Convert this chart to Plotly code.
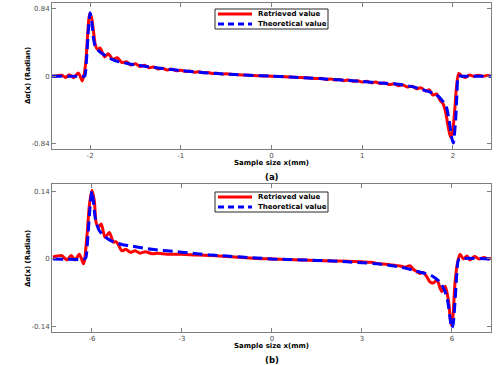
import plotly.graph_objects as go

# ---- panel (a): phase gradient, sample size +/-2 mm ----
a_retrieved_x = [-2.42, -2.36, -2.31, -2.27, -2.23, -2.18, -2.13, -2.085, -2.05, -2.025,
                 -2.005, -1.985, -1.965, -1.94, -1.915, -1.89, -1.84, -1.80, -1.75, -1.70,
                 -1.65, -1.60, -1.55, -1.50, -1.45, -1.40, -1.35, -1.30, -1.25, -1.20,
                 -1.15, -1.10, -1.05, -1.00, -0.95, -0.90, -0.85, -0.80, -0.75, -0.70,
                 -0.65, -0.60, -0.55, -0.50, -0.40, -0.30, -0.20, -0.10, 0.0, 0.10,
                 0.20, 0.30, 0.40, 0.50, 0.55, 0.60, 0.65, 0.70, 0.75, 0.80,
                 0.85, 0.90, 0.95, 1.00, 1.05, 1.10, 1.15, 1.20, 1.25, 1.30,
                 1.35, 1.40, 1.45, 1.50, 1.55, 1.60, 1.65, 1.70, 1.74, 1.78,
                 1.82, 1.86, 1.89, 1.92, 1.95, 1.975, 1.995, 2.02, 2.04, 2.065,
                 2.10, 2.14, 2.18, 2.23, 2.28, 2.33, 2.38, 2.42]
a_retrieved_y = [0.0, 0.005, 0.012, -0.015, 0.018, -0.018, 0.04, -0.06, 0.15, 0.55,
                 0.78, 0.73, 0.58, 0.38, 0.33, 0.35, 0.24, 0.28, 0.21, 0.23,
                 0.17, 0.18, 0.14, 0.155, 0.12, 0.135, 0.105, 0.115, 0.09, 0.10,
                 0.078, 0.088, 0.068, 0.075, 0.06, 0.065, 0.05, 0.056, 0.042, 0.046,
                 0.034, 0.038, 0.027, 0.03, 0.02, 0.014, 0.009, 0.004, 0.0, -0.005,
                 -0.011, -0.015, -0.02, -0.03, -0.027, -0.04, -0.034, -0.046, -0.04, -0.055,
                 -0.048, -0.063, -0.056, -0.072, -0.064, -0.082, -0.073, -0.092, -0.084, -0.104,
                 -0.095, -0.118, -0.108, -0.135, -0.125, -0.155, -0.145, -0.185, -0.17, -0.235,
                 -0.22, -0.30, -0.34, -0.45, -0.64, -0.76, -0.70, -0.42, -0.13, 0.035,
                 0.0, -0.015, 0.015, -0.002, 0.012, 0.0, 0.008, 0.0]

a_theory_x = [-2.42, -2.10, -2.06, -2.04, -2.02, -2.00, -1.98, -1.96, -1.94, -1.90,
              -1.85, -1.80, -1.75, -1.70, -1.60, -1.50, -1.40, -1.30, -1.20, -1.10,
              -1.00, -0.80, -0.60, -0.40, -0.20, 0.0, 0.20, 0.40, 0.60, 0.80,
              1.00, 1.20, 1.40, 1.55, 1.70, 1.80, 1.85, 1.90, 1.93, 1.96,
              1.99, 2.005, 2.03, 2.045, 2.06, 2.10, 2.42]
a_theory_y = [0.0, 0.0, 0.0, 0.2, 0.55, 0.79, 0.66, 0.45, 0.36, 0.31,
              0.27, 0.235, 0.205, 0.185, 0.16, 0.14, 0.125, 0.11, 0.095, 0.082,
              0.07, 0.05, 0.033, 0.02, 0.01, 0.0, -0.01, -0.022, -0.035, -0.05,
              -0.065, -0.083, -0.10, -0.13, -0.18, -0.22, -0.26, -0.33, -0.39, -0.56,
              -0.78, -0.83, -0.54, -0.21, 0.0, 0.0, 0.0]

a_ticks_x = [-2, -1, 0, 1, 2]
a_ticks_y = [-0.84, 0, 0.84]

# ---- panel (b): sample size +/-6 mm ----
b_retrieved_x = [-7.3, -7.15, -7.0, -6.9, -6.83, -6.69, -6.56, -6.42, -6.28, -6.17,
                 -6.08, -6.0, -5.92, -5.86, -5.78, -5.69, -5.56, -5.42, -5.28, -5.2,
                 -5.13, -5.0, -4.87, -4.72, -4.56, -4.39, -4.22, -4.0, -3.8, -3.5,
                 -3.0, -2.5, -2.0, -1.5, -1.0, -0.5, 0.0, 0.5, 1.0, 1.5,
                 2.0, 2.5, 3.0, 3.3, 3.6, 3.93, 4.27, 4.45, 4.6, 4.72,
                 4.82, 4.93, 5.05, 5.16, 5.27, 5.38, 5.5, 5.6, 5.66, 5.77,
                 5.85, 5.9, 5.97, 6.02, 6.1, 6.18, 6.27, 6.38, 6.5, 6.6,
                 6.75, 6.9, 7.07, 7.2, 7.3]
b_retrieved_y = [0.004, 0.006, 0.007, 0.001, -0.002, 0.007, -0.002, 0.01, -0.01, 0.045,
                 0.114, 0.143, 0.121, 0.076, 0.066, 0.073, 0.045, 0.055, 0.035, 0.036,
                 0.031, 0.017, 0.02, 0.014, 0.017, 0.012, 0.015, 0.011, 0.012, 0.01,
                 0.01, 0.008, 0.007, 0.005, 0.003, 0.001, 0.0, -0.001, -0.002, -0.003,
                 -0.004, -0.005, -0.006, -0.007, -0.01, -0.012, -0.0145, -0.017, -0.014, -0.022,
                 -0.026, -0.03, -0.028, -0.037, -0.048, -0.05, -0.044, -0.06, -0.068, -0.057,
                 -0.075, -0.095, -0.137, -0.127, -0.05, -0.009, 0.01, 0.0, 0.006, -0.002,
                 0.005, 0.0, 0.003, 0.0, 0.002]

b_theory_x = [-7.3, -6.25, -6.2, -6.13, -6.06, -6.0, -5.95, -5.89, -5.78, -5.67,
              -5.5, -5.3, -5.0, -4.7, -4.4, -4.0, -3.5, -3.0, -2.5, -2.0,
              -1.5, -1.0, -0.5, 0.0, 0.5, 1.0, 1.5, 2.0, 2.5, 3.0,
              3.5, 4.0, 4.5, 4.8, 5.1, 5.3, 5.45, 5.6, 5.75, 5.85,
              5.93, 5.99, 6.04, 6.1, 6.15, 6.2, 6.25, 7.3]
b_theory_y = [0.0, 0.0, 0.003, 0.05, 0.11, 0.142, 0.12, 0.086, 0.062, 0.052,
              0.043, 0.036, 0.03, 0.027, 0.024, 0.02, 0.017, 0.014, 0.011, 0.008,
              0.006, 0.004, 0.002, 0.0, -0.001, -0.002, -0.003, -0.004, -0.006, -0.008,
              -0.01, -0.014, -0.02, -0.025, -0.03, -0.034, -0.04, -0.048, -0.065, -0.085,
              -0.12, -0.144, -0.135, -0.09, -0.04, -0.005, 0.0, 0.0]

b_ticks_x = [-6, -3, 0, 3, 6]
b_ticks_y = [-0.14, 0, 0.14]

series_names = ["Retrieved value", "Theoretical value"]

RED = "#ff0000"
BLUE = "#0000ff"
FONT = "DejaVu Sans"
AXIS_COLOR = "#7f7f7f"
LABEL_COLOR = "#4d4d4d"

W, H = 498, 365
ML, MR, MT, MB = 52, 7, 3, 33


def px_x(p):
    # pixel column -> paper x
    return (p - ML) / (W - ML - MR)


def px_y(p):
    # pixel row (from top) -> paper y
    return (H - MB - p) / (H - MT - MB)


def fmt(v):
    return "0" if v == 0 else f"{v:g}"


fig = go.Figure()

panels = [
    ("x", "y", a_retrieved_x, a_retrieved_y, a_theory_x, a_theory_y),
    ("x2", "y2", b_retrieved_x, b_retrieved_y, b_theory_x, b_theory_y),
]
for xa, ya, rx, ry, tx, ty in panels:
    # retrieved first so the dashed theory line sits on top
    fig.add_trace(go.Scatter(x=rx, y=ry, mode="lines", name=series_names[0],
                             line=dict(color=RED, width=3, shape="spline", smoothing=0.8),
                             xaxis=xa, yaxis=ya, showlegend=False))
    fig.add_trace(go.Scatter(x=tx, y=ty, mode="lines", name=series_names[1],
                             line=dict(color=BLUE, width=3, dash="10px,5px",
                                       shape="spline", smoothing=0.6),
                             xaxis=xa, yaxis=ya, showlegend=False))

axis_style = dict(showline=True, linecolor=AXIS_COLOR, linewidth=1, mirror="ticks",
                  ticks="inside", ticklen=4, tickcolor=AXIS_COLOR, showgrid=False,
                  zeroline=False, automargin=False,
                  tickfont=dict(family=FONT, size=7, color=LABEL_COLOR))

fig.update_layout(
    width=W, height=H,
    margin=dict(l=ML, r=MR, t=MT, b=MB, autoexpand=False),
    paper_bgcolor="white", plot_bgcolor="white",
    showlegend=False,
    xaxis=dict(domain=[0, 1], anchor="y", range=[-2.42, 2.42],
               tickvals=a_ticks_x, ticktext=[fmt(v) for v in a_ticks_x], **axis_style),
    yaxis=dict(domain=[px_y(149), 1], anchor="x", range=[-0.905, 0.91],
               tickvals=a_ticks_y, ticktext=[fmt(v) for v in a_ticks_y], **axis_style),
    xaxis2=dict(domain=[0, 1], anchor="y2", range=[-7.33, 7.3],
                tickvals=b_ticks_x, ticktext=[fmt(v) for v in b_ticks_x], **axis_style),
    yaxis2=dict(domain=[0, px_y(184)], anchor="x2", range=[-0.152, 0.156],
                tickvals=b_ticks_y, ticktext=[fmt(v) for v in b_ticks_y], **axis_style),
)

title_font = dict(family=FONT, size=7, color="black")
ylabel = "<b>Δ<i>α</i>(x) (Radian)</b>"
# (x-title row, tag row, tag, y-title centre row, legend top row)
for xt_row, tag_row, tag, ymid_row, leg_top in [(163, 177, "(a)", 76, 9), (346, 360, "(b)", 259, 192)]:
    fig.add_annotation(x=0.5, y=px_y(xt_row), xref="paper", yref="paper", showarrow=False,
                       text="<b>Sample size x(mm)</b>", font=title_font,
                       xanchor="center", yanchor="middle")
    fig.add_annotation(x=0.5, y=px_y(tag_row), xref="paper", yref="paper", showarrow=False,
                       text=f"<b>{tag}</b>", font=dict(family=FONT, size=8.5, color="black"),
                       xanchor="center", yanchor="middle")
    fig.add_annotation(x=px_x(28), y=px_y(ymid_row), xref="paper", yref="paper",
                       showarrow=False, text=ylabel, textangle=-90, font=title_font,
                       xanchor="center", yanchor="middle")

    # compact MATLAB-style legend box
    fig.add_shape(type="rect", xref="paper", yref="paper",
                  x0=px_x(215), x1=px_x(328), y0=px_y(leg_top + 20), y1=px_y(leg_top),
                  line=dict(color="#262626", width=1), fillcolor="white", layer="above")
    for k, (name, color, dash) in enumerate([(series_names[0], RED, "solid"),
                                              (series_names[1], BLUE, "6px,4px")]):
        row = leg_top + 5 + 10 * k
        fig.add_shape(type="line", xref="paper", yref="paper",
                      x0=px_x(218), x1=px_x(252), y0=px_y(row), y1=px_y(row),
                      line=dict(color=color, width=3, dash=dash), layer="above")
        fig.add_annotation(x=px_x(256), y=px_y(row), xref="paper", yref="paper",
                           showarrow=False, text=f"<b>{name}</b>",
                           font=dict(family=FONT, size=7, color="black"),
                           xanchor="left", yanchor="middle")

# drop the browser's default page margin so the figure sits at the window origin
fig.write_html("out.html", config={"displayModeBar": False},
               post_script="document.body.style.margin = '0';")
